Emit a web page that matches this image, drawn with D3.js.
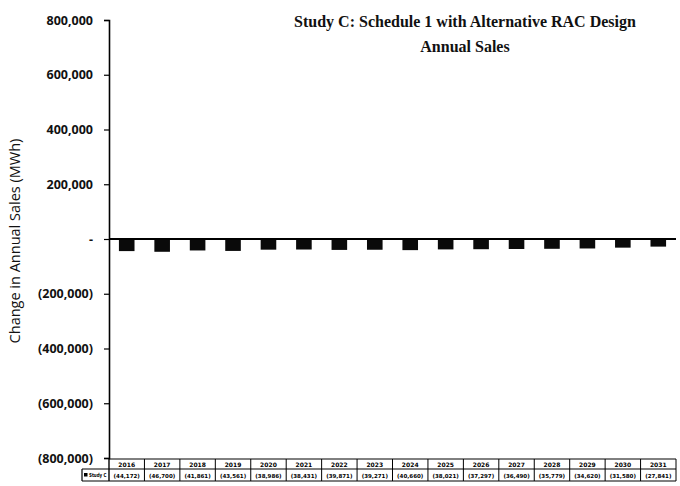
<!DOCTYPE html>
<html>
<head>
<meta charset="utf-8">
<script src="https://cdn.jsdelivr.net/npm/d3@7"></script>
<style>
  html, body { margin: 0; padding: 0; background: #fff; }
  svg { display: block; }
</style>
</head>
<body>
<svg id="chart" width="680" height="486"></svg>
<script>
// Annual sales change by year, Study C (MWh)
const years = ["2016","2017","2018","2019","2020","2021","2022","2023","2024","2025","2026","2027","2028","2029","2030","2031"];
const studyC = [-44172,-46700,-41861,-43561,-38986,-38431,-39871,-39271,-40660,-38021,-37297,-36490,-35779,-34620,-31580,-27841];
const yTicks = [800000,600000,400000,200000,0,-200000,-400000,-600000,-800000];
const seriesName = "Study C";
const titleLines = ["Study C: Schedule 1 with Alternative RAC Design", "Annual Sales"];
const yTitle = "Change in Annual Sales (MWh)";

const svg = d3.select("#chart");
const plotLeft = 109, plotRight = 676, plotTop = 20, plotBottom = 458;

const fmt = v => v === 0 ? "-" : (v < 0 ? "(" + d3.format(",")(-v) + ")" : d3.format(",")(v));

const x = d3.scaleBand().domain(years).range([plotLeft, plotRight]).paddingInner(0.56).paddingOuter(0.28);
const y = d3.scaleLinear().domain([-800000, 800000]).range([plotBottom, plotTop]);

// Y axis
const yAxis = d3.axisLeft(y).tickValues(yTicks).tickFormat(fmt).tickSize(5).tickPadding(11);
const gy = svg.append("g").attr("transform", `translate(${plotLeft},0)`).call(yAxis);
gy.select(".domain").attr("stroke", "#000").attr("stroke-width", 1.6);
gy.selectAll(".tick line").attr("stroke", "#000").attr("stroke-width", 1.2);
gy.selectAll(".tick text")
  .attr("fill", "#111")
  .style("font-family", "'Open Sans', 'DejaVu Sans', sans-serif")
  .style("font-weight", "700")
  .style("font-size", "12.5px");

// Bars
svg.append("g").selectAll("rect").data(years).join("rect")
  .attr("x", d => x(d))
  .attr("width", x.bandwidth())
  .attr("y", (d, i) => y(Math.max(0, studyC[i])))
  .attr("height", (d, i) => Math.abs(y(studyC[i]) - y(0)))
  .attr("fill", "#0a0a0a");

// Zero baseline
svg.append("line")
  .attr("x1", plotLeft).attr("x2", plotRight)
  .attr("y1", y(0)).attr("y2", y(0))
  .attr("stroke", "#000").attr("stroke-width", 2);

// Title
svg.append("g").selectAll("text").data(titleLines).join("text")
  .attr("x", 465).attr("y", (d, i) => 27 + i * 25)
  .attr("text-anchor", "middle")
  .style("font-family", "'Liberation Serif', 'DejaVu Serif', serif")
  .style("font-weight", "700")
  .style("font-size", "16px")
  .attr("fill", "#111")
  .text(d => d);

// Y axis title
svg.append("text")
  .attr("transform", `translate(20,${(plotTop + plotBottom) / 2 + 2}) rotate(-90)`)
  .attr("text-anchor", "middle")
  .style("font-family", "'Open Sans', 'DejaVu Sans', sans-serif")
  .style("font-size", "14.5px")
  .attr("fill", "#111")
  .text(yTitle);

// Data table beneath the plot
const rowTop = 459, rowMid = 469, rowBot = 481, legendLeft = 82;
const colW = (plotRight - plotLeft) / years.length;
const colEdges = years.map((d, i) => plotLeft + i * colW);
const table = svg.append("g");
table.append("line").attr("x1", plotLeft).attr("x2", plotRight).attr("y1", rowTop).attr("y2", rowTop).attr("stroke", "#000").attr("stroke-width", 1);
table.append("line").attr("x1", legendLeft).attr("x2", plotRight).attr("y1", rowMid).attr("y2", rowMid).attr("stroke", "#000").attr("stroke-width", 1.2);
table.append("line").attr("x1", legendLeft).attr("x2", plotRight).attr("y1", rowBot).attr("y2", rowBot).attr("stroke", "#000").attr("stroke-width", 1.2);
table.append("line").attr("x1", legendLeft).attr("x2", legendLeft).attr("y1", rowMid).attr("y2", rowBot).attr("stroke", "#000").attr("stroke-width", 1.2);
table.append("line").attr("x1", plotLeft).attr("x2", plotLeft).attr("y1", rowTop).attr("y2", rowBot).attr("stroke", "#000").attr("stroke-width", 1.4);
table.selectAll(".sep").data(years).join("line")
  .attr("class", "sep")
  .attr("x1", (d, i) => colEdges[i] + colW).attr("x2", (d, i) => colEdges[i] + colW)
  .attr("y1", rowTop).attr("y2", rowBot)
  .attr("stroke", "#000").attr("stroke-width", 1);
table.selectAll(".yr").data(years).join("text")
  .attr("class", "yr")
  .attr("x", (d, i) => colEdges[i] + colW / 2).attr("y", rowTop + 7.5)
  .attr("text-anchor", "middle")
  .style("font-family", "'DejaVu Sans', sans-serif").style("font-weight", "700").style("font-size", "6px")
  .attr("fill", "#000")
  .text(d => d);
table.selectAll(".val").data(studyC).join("text")
  .attr("class", "val")
  .attr("x", (d, i) => colEdges[i] + colW / 2).attr("y", rowMid + 8.5)
  .attr("text-anchor", "middle")
  .style("font-family", "'DejaVu Sans', sans-serif").style("font-weight", "700").style("font-size", "5.5px")
  .attr("fill", "#000")
  .text(d => fmt(d));
// Legend key inside the table's first cell
table.append("rect").attr("x", legendLeft + 2).attr("y", rowMid + 4).attr("width", 3.5).attr("height", 3.5).attr("fill", "#000");
table.append("text")
  .attr("x", legendLeft + 7).attr("y", rowMid + 8.3)
  .attr("textLength", 17.5).attr("lengthAdjust", "spacingAndGlyphs")
  .style("font-family", "'DejaVu Sans', sans-serif").style("font-weight", "700").style("font-size", "5.5px")
  .attr("fill", "#000")
  .text(seriesName);
</script>
</body>
</html>
